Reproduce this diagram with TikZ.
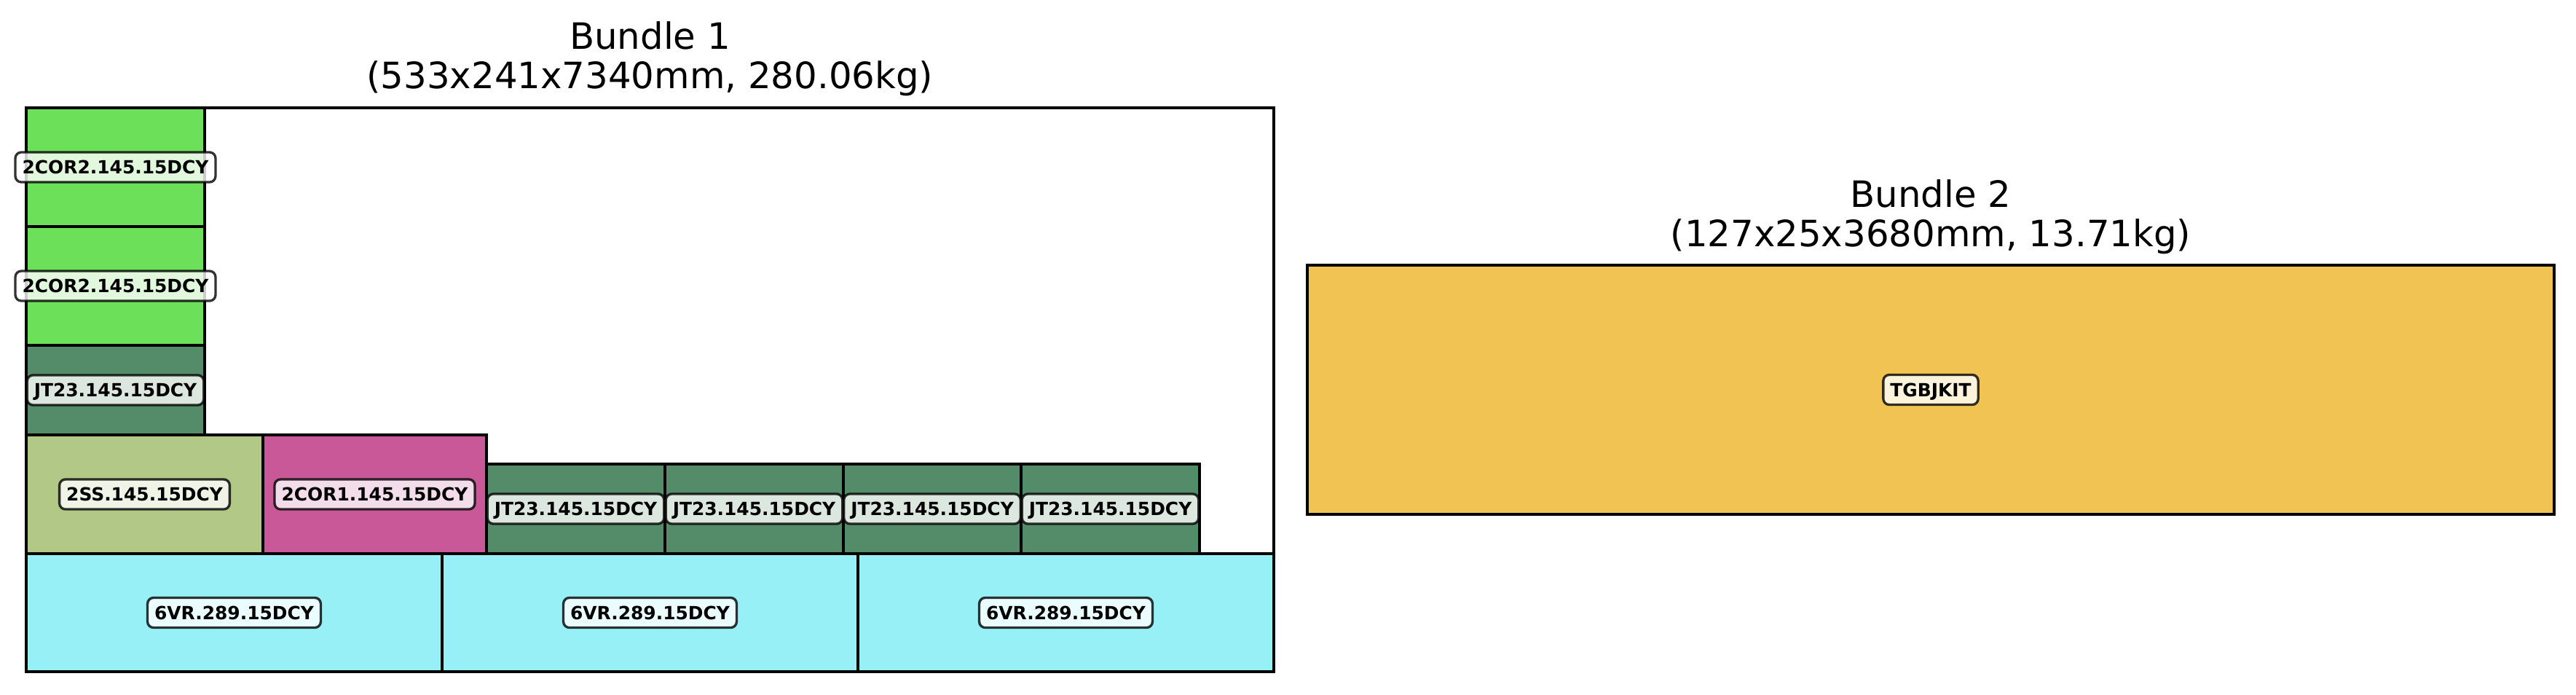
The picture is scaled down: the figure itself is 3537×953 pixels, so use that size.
\documentclass[tikz,border=0pt]{standalone}
\usepackage{fontspec}
\setmainfont{DejaVu Sans}
\definecolor{cgreen}{RGB}{109,224,89}
\definecolor{cjt}{RGB}{84,139,104}
\definecolor{css}{RGB}{177,200,134}
\definecolor{ccor}{RGB}{201,88,152}
\definecolor{cvr}{RGB}{152,240,247}
\definecolor{ckit}{RGB}{241,195,82}
\tikzset{
  box/.style={draw=black, line width=1pt, fill=#1},
  frame/.style={draw=black, line width=1pt},
  lbl/.style={draw=black, draw opacity=0.8, fill=white, fill opacity=0.8, text opacity=1,
    rounded corners=2pt, line width=0.8pt, inner xsep=2.3pt, inner ysep=0pt,
    minimum height=9.9pt, text height=4.4pt, text depth=0pt,
    font=\fontsize{6}{7}\selectfont\bfseries},
  ttl/.style={anchor=base, inner sep=0pt, font=\fontsize{12}{14}\selectfont}
}
\begin{document}
\begin{tikzpicture}[x=0.2409pt, y=-0.2409pt]
\useasboundingbox (0,0) rectangle (3537,953);
% Bundle 1 boxes
\path[box=cvr] (36,760) rectangle (607,922);
\path[box=cvr] (607,760) rectangle (1178,922);
\path[box=cvr] (1178,760) rectangle (1749,922);
\path[box=css] (36,597) rectangle (361,760);
\path[box=ccor] (361,597) rectangle (668,760);
\path[box=cjt] (668,637) rectangle (913,760);
\path[box=cjt] (913,637) rectangle (1158,760);
\path[box=cjt] (1158,637) rectangle (1402,760);
\path[box=cjt] (1402,637) rectangle (1647,760);
\path[box=cjt] (36,474) rectangle (281,597);
\path[box=cgreen] (36,311) rectangle (281,474);
\path[box=cgreen] (36,148) rectangle (281,311);
\path[frame] (36,148) rectangle (1749,922);
% Bundle 2
\path[box=ckit] (1795,364) rectangle (3507,706);
% labels
\node[lbl] (l1) at (158.5,229.5) {2COR2.145.15DCY};
\node[lbl] (l2) at (158.5,392.5) {2COR2.145.15DCY};
\node[lbl] (l3) at (158.5,535.5) {JT23.145.15DCY};
\node[lbl] (l4) at (198.5,678.5) {2SS.145.15DCY};
\node[lbl] (l5) at (514.5,678.5) {2COR1.145.15DCY};
\node[lbl] (l6) at (790.5,698.5) {JT23.145.15DCY};
\node[lbl] (l7) at (1035.5,698.5) {JT23.145.15DCY};
\node[lbl] (l8) at (1280,698.5) {JT23.145.15DCY};
\node[lbl] (l9) at (1524.5,698.5) {JT23.145.15DCY};
\node[lbl] (l10) at (321.5,841) {6VR.289.15DCY};
\node[lbl] (l11) at (892.5,841) {6VR.289.15DCY};
\node[lbl] (l12) at (1463.5,841) {6VR.289.15DCY};
\node[lbl] (l13) at (2651,535) {TGBJKIT};
% titles
\node[ttl] (t1a) at (892.5,67) {Bundle 1};
\node[ttl] (t1b) at (892.5,121) {(533x241x7340mm, 280.06kg)};
\node[ttl] (t2a) at (2651,284) {Bundle 2};
\node[ttl] (t2b) at (2651,338) {(127x25x3680mm, 13.71kg)};
\end{tikzpicture}
\end{document}
